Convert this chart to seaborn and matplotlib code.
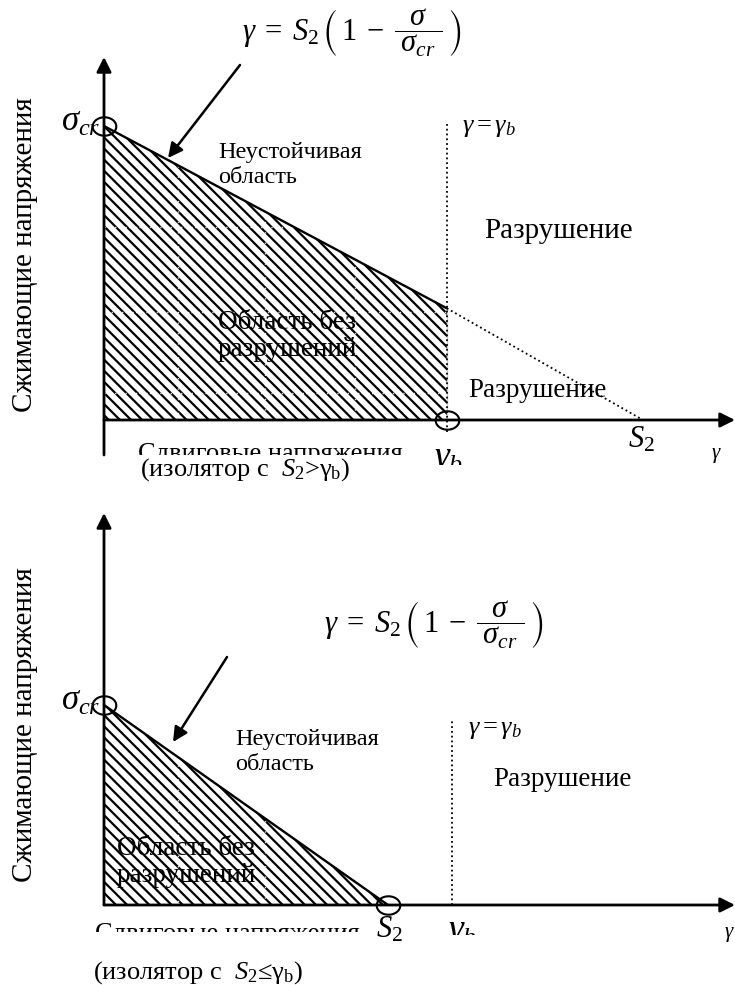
import numpy as np
import matplotlib
matplotlib.use("Agg")
import matplotlib.pyplot as plt
from matplotlib.path import Path
from matplotlib.patches import FancyArrowPatch
from matplotlib.transforms import Bbox, TransformedBbox
import seaborn as sns

# ---------------------------------------------------------------------------
# Data: stress-strain failure envelope of an isolator, two cases.
# Vertical axis: compressive stress sigma (sigma_cr = 1),
# horizontal axis: shear strain gamma (S2 = 1).
# ---------------------------------------------------------------------------
sigma_cr = [1.0, 1.0]
s2 = [1.0, 1.0]
gamma_b = [0.636, 1.225]            # breaking strain, in units of S2
sigma_at_gamma_b = [0.38, 0.0]      # envelope height where the safe region ends
safe_end = [0.636, 1.0]             # right end of the safe (hatched) region

y_label = "Сжимающие напряжения"
x_label = "Сдвиговые напряжения"
unstable_label = "Неустойчивая\nобласть"
safe_label = "Область без\nразрушений"
failure_label = "Разрушение"
formula = r"$\gamma\; =\; S_2\,\left(\,1\; -\; \dfrac{\;\sigma\;}{\;\sigma_{cr}\;}\,\right)$"
gb_line_label = r"$\gamma = \gamma_b$"
captions = ["(изолятор с  $S_2$>γ$_{\\rm b}$)", "(изолятор с  $S_2$≤γ$_{\\rm b}$)"]

# ---------------------------------------------------------------------------
sns.set_theme(style="white")
plt.rcParams["font.family"] = ["Liberation Serif", "DejaVu Serif"]
plt.rcParams["mathtext.fontset"] = "custom"
plt.rcParams["mathtext.rm"] = "Liberation Serif"
plt.rcParams["mathtext.it"] = "Liberation Serif:italic"
plt.rcParams["mathtext.bf"] = "Liberation Serif:bold"
plt.rcParams["mathtext.fallback"] = "stix"
plt.rcParams["hatch.linewidth"] = 1.6

W, H = 735, 985
fig = plt.figure(figsize=(W / 100, H / 100), dpi=100)
fig.patch.set_facecolor("white")


def fx(x):
    return x / W


def fy(y):
    return 1 - y / H


def ftext(x, y, s, clip_rows=None, **kw):
    t = fig.text(fx(x), fy(y), s, transform=fig.transFigure, color="black", zorder=6, **kw)
    if clip_rows is not None:
        box = Bbox.from_extents(0, fy(clip_rows[1]), 1, fy(clip_rows[0]))
        t.set_clip_box(TransformedBbox(box, fig.transFigure))
        t.set_clip_on(True)
    return t


def pointer(start, end):
    fig.add_artist(FancyArrowPatch(
        (fx(start[0]), fy(start[1])), (fx(end[0]), fy(end[1])), transform=fig.transFigure,
        arrowstyle="-|>", mutation_scale=22, lw=1.8, color="black", shrinkA=0, shrinkB=0))


def make_axes(rows, origin, unit):
    top_row, bot_row = rows
    ax = fig.add_axes([0, 1 - bot_row / H, 1, (bot_row - top_row) / H])
    x0, y0 = origin
    ux, uy = unit
    ax.set_xlim(-x0 / ux, (W - x0) / ux)
    ax.set_ylim(-(bot_row - y0) / uy, (y0 - top_row) / uy)
    ax.set_facecolor("none")
    sns.despine(ax=ax, left=True, bottom=True, top=True, right=True)
    ax.tick_params(length=0, labelbottom=False, labelleft=False)
    return ax


t = np.linspace(0, 2 * np.pi, 60)
ellipse = Path(np.c_[np.cos(t), 0.78 * np.sin(t)])

# panel geometry (pixel anchors of the origin and of the unit values)
panels = [
    dict(rows=(0, 490), origin=(104, 420), unit=(539, 294),
         yaxis_rows=(455, 57), gb_rows=(432, 122),
         grid_x=[0.137, 0.299, 0.466], grid_y=[0.092, 0.367, 0.656]),
    dict(rows=(490, 985), origin=(104, 905), unit=(284, 200),
         yaxis_rows=(905, 513), gb_rows=(905, 720),
         grid_x=[0.26, 0.567], grid_y=[]),
]

for i, p in enumerate(panels):
    ax = make_axes(p["rows"], p["origin"], p["unit"])
    y0 = p["origin"][1]
    uy = p["unit"][1]

    def yrow(r):
        return (y0 - r) / uy

    # faint grid showing through the hatching
    ax.set_xticks(p["grid_x"])
    ax.set_yticks(p["grid_y"])
    ax.grid(True, color="white", ls=(0, (1, 1.5)), lw=1.0, alpha=0.9)
    ax.set_axisbelow(False)

    # hatched safe region
    if i == 0:
        xs = [0, 0, gamma_b[i], gamma_b[i]]
        ys = [0, sigma_cr[i], sigma_at_gamma_b[i], 0]
    else:
        xs = [0, 0, s2[i]]
        ys = [0, sigma_cr[i], 0]
    ax.fill(xs, ys, facecolor="white", edgecolor="black", hatch="\\" * 3, lw=0, zorder=1)

    # envelope
    sns.lineplot(x=[0, safe_end[i]], y=[sigma_cr[i], sigma_at_gamma_b[i]], ax=ax,
                 color="black", lw=1.7, zorder=3)
    if i == 0:
        sns.lineplot(x=[gamma_b[i], s2[i]], y=[sigma_at_gamma_b[i], 0], ax=ax,
                     color="black", lw=1.3, ls=":", zorder=3)
        sns.lineplot(x=[gamma_b[i], gamma_b[i]], y=[0, sigma_at_gamma_b[i]], ax=ax,
                     color="black", lw=2.0, zorder=3)

    # gamma = gamma_b dotted line
    ax.plot([gamma_b[i], gamma_b[i]], [yrow(p["gb_rows"][0]), yrow(p["gb_rows"][1])],
            color="black", lw=1.3, ls=":", zorder=3)

    # axes with arrows
    xmax = ax.get_xlim()[1]
    ax.annotate("", xy=(xmax, 0), xytext=(0, 0),
                arrowprops=dict(arrowstyle="-|>", lw=2.0, color="black",
                                mutation_scale=22, shrinkA=0, shrinkB=0), zorder=4)
    ax.annotate("", xy=(0, yrow(p["yaxis_rows"][1])), xytext=(0, yrow(p["yaxis_rows"][0])),
                arrowprops=dict(arrowstyle="-|>", lw=2.0, color="black",
                                mutation_scale=22, shrinkA=0, shrinkB=0), zorder=4)

    # circled key points
    if i == 0:
        px_, py_ = [0, gamma_b[i]], [sigma_cr[i], 0]
    else:
        px_, py_ = [0, s2[i]], [sigma_cr[i], 0]
    ax.plot(px_, py_, ls="none", marker=ellipse, ms=17, mfc="none", mec="black",
            mew=1.5, zorder=5)

# ---------------------------------------------------------------------------
# Annotations, top panel
ftext(352, 33, formula, fontsize=22, ha="center", va="center")
pointer((240, 65), (168, 158))
ftext(100, 122, r"$\sigma_{cr}$", fontsize=25, ha="right", va="center")
ftext(25, 255, y_label, fontsize=21, rotation=90, ha="center", va="center")
ftext(218, 165, unstable_label, fontsize=17.5, ha="left", va="center", linespacing=1.2)
ftext(462, 128, gb_line_label, fontsize=19, ha="left", va="center")
ftext(484, 231, failure_label, fontsize=21, ha="left", va="center")
ftext(287, 336, safe_label, fontsize=19.5, ha="center", va="center", linespacing=1.1)
ftext(468, 390, failure_label, fontsize=19.5, ha="left", va="center")
ftext(138, 460, x_label, fontsize=19, ha="left", va="baseline", clip_rows=(0, 455))
ftext(434, 467, r"$\gamma_b$", fontsize=27, ha="left", va="baseline", clip_rows=(0, 465))
ftext(628, 448, r"$S_2$", fontsize=22, ha="left", va="baseline")
ftext(711, 458, r"$\gamma$", fontsize=15, ha="left", va="baseline")
ftext(140, 470, captions[0], fontsize=19, ha="left", va="center")

# Annotations, bottom panel
ftext(434, 625, formula, fontsize=22, ha="center", va="center")
pointer((227, 657), (173, 742))
ftext(100, 701, r"$\sigma_{cr}$", fontsize=25, ha="right", va="center")
ftext(25, 725, y_label, fontsize=21, rotation=90, ha="center", va="center")
ftext(235, 752, unstable_label, fontsize=17.5, ha="left", va="center", linespacing=1.2)
ftext(468, 730, gb_line_label, fontsize=19, ha="left", va="center")
ftext(493, 780, failure_label, fontsize=19.5, ha="left", va="center")
ftext(117, 862, safe_label, fontsize=19.5, ha="left", va="center", linespacing=1.1)
ftext(95, 940, x_label, fontsize=19, ha="left", va="baseline", clip_rows=(0, 932))
ftext(376, 937, r"$S_2$", fontsize=22, ha="left", va="baseline")
ftext(448, 940, r"$\gamma_b$", fontsize=27, ha="left", va="baseline", clip_rows=(0, 935))
ftext(724, 937, r"$\gamma$", fontsize=15, ha="left", va="baseline")
ftext(93, 973, captions[1], fontsize=19, ha="left", va="center")

fig.savefig("out.png", dpi=100, facecolor="white")
